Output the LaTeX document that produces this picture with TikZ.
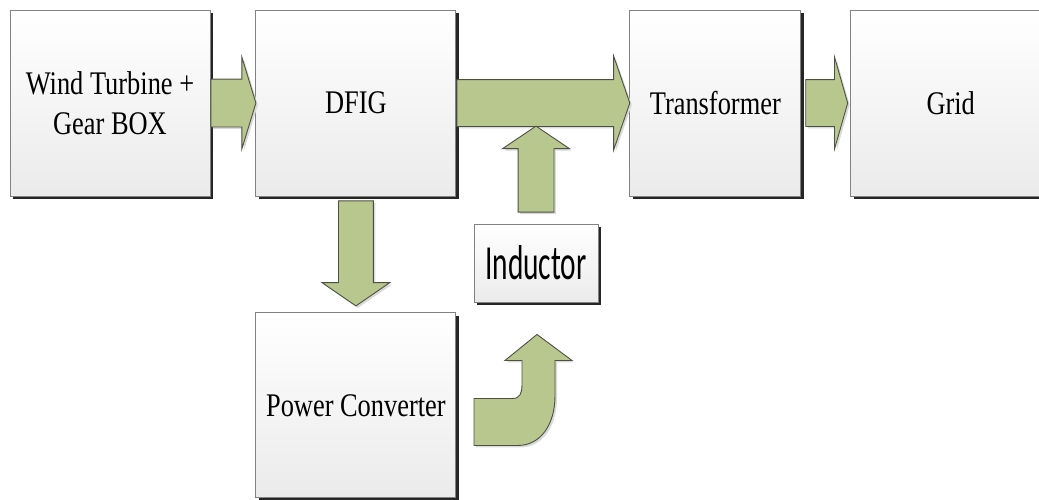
\documentclass[tikz,border=0pt]{standalone}
\usepackage{fontspec}
\usetikzlibrary{positioning,shapes.arrows,shadows,calc}
\newfontfamily\blockfont[FakeStretch=0.8]{Liberation Serif}
\newfontfamily\labelfont[FakeStretch=0.6]{Carlito}
\definecolor{arrowgreen}{RGB}{184,199,141}
\definecolor{arrowedge}{RGB}{78,80,70}
\definecolor{boxedge}{RGB}{130,130,130}

\begin{document}
\begin{tikzpicture}[x=1pt,y=-1pt,
 block/.style={draw=boxedge,line width=0.9pt,top color=white,bottom color=black!8,
  minimum width=200pt,minimum height=186pt,inner sep=0pt,align=center,
  font=\blockfont\fontsize{33}{40}\selectfont,
  drop shadow={shadow xshift=3pt,shadow yshift=-3pt,fill=black!85,opacity=1}},
 flowfill/.style={draw=arrowedge,fill=arrowgreen,line width=0.9pt,
  drop shadow={shadow xshift=2pt,shadow yshift=-2pt,fill=black!15,opacity=1}},
 flow/.style={flowfill,single arrow,inner sep=0pt,anchor=tail},
 halfshaft/.style={text height=#1,text depth=#1}]
\useasboundingbox (0,0) rectangle (1039,499);
% blocks of the chain
\node[block] (turbine) at (110,103) {Wind Turbine +\\Gear BOX};
\node[block,right=45pt of turbine] (dfig) {DFIG};
\node[block,right=173pt of dfig,minimum width=171pt] (trafo) {Transformer};
\node[block,right=49pt of trafo] (grid) {Grid};
\node[block,below=116pt of dfig,minimum height=185pt] (conv) {Power Converter};
\node[block,minimum width=124pt,minimum height=78pt,
 font=\labelfont\fontsize{49}{50}\selectfont] (ind) at (536,263) {Inductor};
% power flow arrows, each placed by its tail
\node[flow,halfshaft=23.5pt,minimum height=45pt,single arrow head extend=22pt,
 single arrow tip angle=146] (a1) at (turbine.east) {};
\node[flow,halfshaft=23pt,minimum height=173pt,single arrow head extend=23.5pt,
 single arrow tip angle=142] (a2) at (dfig.east) {};
\node[flow,halfshaft=23pt,minimum height=42pt,single arrow head extend=22.5pt,
 single arrow tip angle=148] (a3) at ($(trafo.east)+(4,0)$) {};
\node[flow,halfshaft=17pt,rotate=-90,minimum height=105pt,single arrow head extend=16.5pt,
 single arrow tip angle=111] (a4) at ($(dfig.south)+(0,4)$) {};
\node[flow,halfshaft=17.5pt,rotate=90,minimum height=86pt,single arrow head extend=15.5pt,
 single arrow tip angle=112] (a5) at ($(ind.north)+(0,-11)$) {};
% bent arrow from the converter up to the inductor
\begin{scope}[shift={(ind.south)}]
\draw[flowfill] (-62,96) -- (-23,96) .. controls (-16,96) and (-14,90) .. (-14,83)
 -- (-14,58) -- (-31,58) -- (1,32) -- (36,58) -- (19,58) -- (19,93)
 .. controls (19,123) and (4,143) .. (-18,143) -- (-62,143) -- cycle;
\end{scope}
\end{tikzpicture}
\end{document}
